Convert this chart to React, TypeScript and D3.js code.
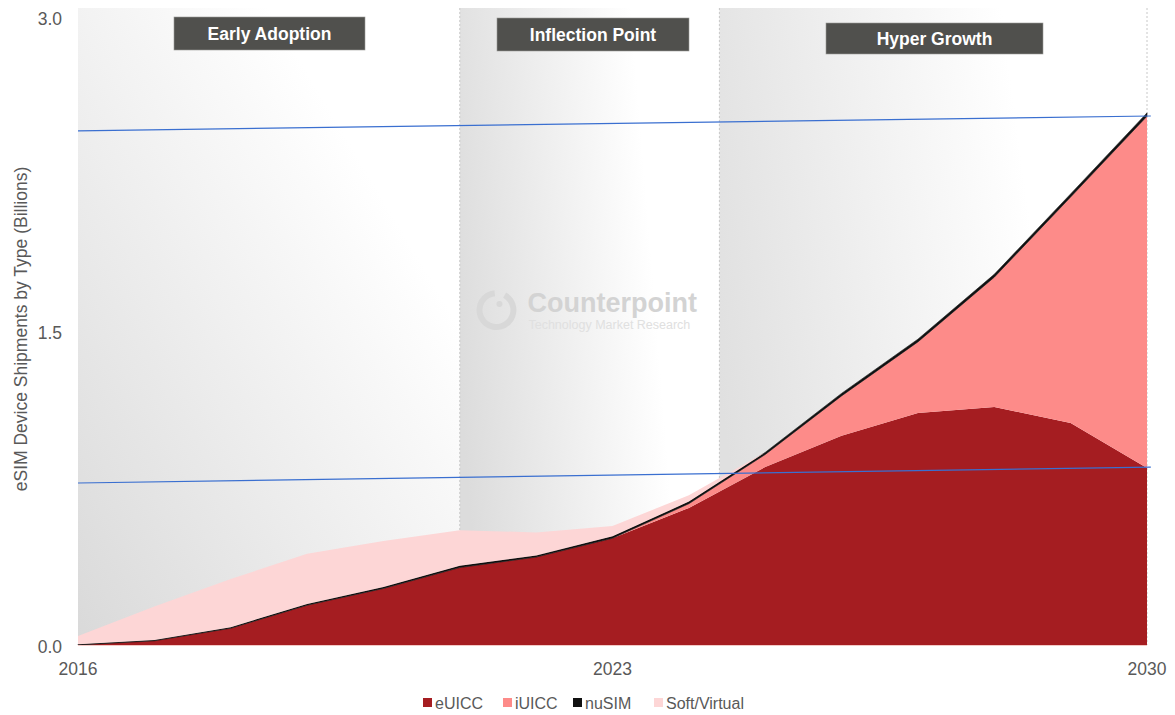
import React, { useRef, useEffect } from 'react';
import * as d3 from 'd3';

const years = [2016, 2017, 2018, 2019, 2020, 2021, 2022, 2023, 2024, 2025, 2026, 2027, 2028, 2029, 2030];
const eUICC = [0.0, 0.02, 0.08, 0.19, 0.27, 0.37, 0.42, 0.51, 0.655, 0.85, 1.0, 1.108, 1.137, 1.06, 0.846];
const iUICC = [0, 0, 0, 0, 0, 0, 0, 0, 0.02, 0.06, 0.19, 0.34, 0.62, 1.08, 1.68];
const nuSIM = [0.003, 0.004, 0.005, 0.006, 0.007, 0.008, 0.008, 0.009, 0.01, 0.01, 0.012, 0.013, 0.014, 0.015, 0.016];
const softVirtual = [0.04, 0.16, 0.23, 0.24, 0.22, 0.17, 0.11, 0.05, 0.03, 0, 0, 0, 0, 0, 0];

const seriesNames = ['eUICC', 'iUICC', 'nuSIM', 'Soft/Virtual'];
const seriesColors = ['#a51d21', '#fd8b89', '#111111', '#fdd6d6'];

const phases = ['Early Adoption', 'Inflection Point', 'Hyper Growth'];
const phaseBounds = [2016, 2021, 2024.4, 2030];

const yTicks = [0, 1.5, 3.0];
const xTicks = [2016, 2023, 2030];

// the two thin blue guide lines drawn over the chart, [x0, y0, x1, y1] in data units
const guideLines = [
  [2016, 2.456, 2030.05, 2.527],
  [2016, 0.774, 2030.05, 0.85],
];

const App: React.FC = () => {
  const svgRef = useRef<SVGSVGElement | null>(null);

  useEffect(() => {
    const W = 1175;
    const H = 715;
    const margin = { top: 17, right: 28, bottom: 70, left: 78 };
    const width = W - margin.left - margin.right;
    const height = H - margin.top - margin.bottom;
    const font = '"Liberation Sans", Arial, sans-serif';

    const root = d3.select(svgRef.current);
    root.selectAll('*').remove();
    root.attr('width', W).attr('height', H);

    const defs = root.append('defs');
    const grads = [
      { id: 'g0', x1: '0%', y1: '100%', x2: '100%', y2: '0%', from: '#d9d9d9', to: '#ffffff' },
      { id: 'g1', x1: '0%', y1: '60%', x2: '100%', y2: '40%', from: '#dcdcdc', to: '#ffffff' },
      { id: 'g2', x1: '0%', y1: '60%', x2: '100%', y2: '40%', from: '#e0e0e0', to: '#ffffff' },
    ];
    grads.forEach((g) => {
      const lg = defs
        .append('linearGradient')
        .attr('id', g.id)
        .attr('x1', g.x1)
        .attr('y1', g.y1)
        .attr('x2', g.x2)
        .attr('y2', g.y2);
      lg.append('stop').attr('offset', '0%').attr('stop-color', g.from);
      lg.append('stop').attr('offset', '75%').attr('stop-color', g.to);
    });

    const svg = root.append('g').attr('transform', `translate(${margin.left},${margin.top})`);

    const x = d3.scaleLinear().domain([2016, 2030]).range([0, width]);
    const y = d3.scaleLinear().domain([0, 3]).range([height, 0]);

    // phase backgrounds
    phases.forEach((p, i) => {
      svg
        .append('rect')
        .attr('x', x(phaseBounds[i]))
        .attr('y', -9)
        .attr('width', x(phaseBounds[i + 1]) - x(phaseBounds[i]))
        .attr('height', height + 9)
        .attr('fill', `url(#g${i})`);
    });
    phaseBounds.slice(1).forEach((b) => {
      svg
        .append('line')
        .attr('x1', x(b))
        .attr('x2', x(b))
        .attr('y1', -9)
        .attr('y2', height)
        .attr('stroke', '#c8c8c8')
        .attr('stroke-width', 1)
        .attr('stroke-dasharray', '2,2');
    });

    // watermark
    const wm = svg.append('g').attr('transform', `translate(${x(2021.48)},${y(1.6)})`);
    wm.append('path')
      .attr('d', d3.arc()({ innerRadius: 14, outerRadius: 20, startAngle: 0.5, endAngle: Math.PI * 2 - 0.1 }) as string)
      .attr('fill', '#d8d8d8');
    wm.append('circle').attr('cx', 3).attr('cy', -6).attr('r', 3).attr('fill', '#d8d8d8');
    wm.append('text')
      .attr('x', 31)
      .attr('y', 2)
      .attr('font-family', font)
      .attr('font-weight', 'bold')
      .attr('font-size', 27)
      .attr('fill', '#d3d3d3')
      .text('Counterpoint');
    wm.append('text')
      .attr('x', 32)
      .attr('y', 19)
      .attr('font-family', font)
      .attr('font-size', 12.5)
      .attr('fill', '#e0e0e0')
      .text('Technology Market Research');

    // stacked areas
    const table = years.map((yr, i) => ({
      year: yr,
      eUICC: eUICC[i],
      iUICC: iUICC[i],
      nuSIM: nuSIM[i],
      'Soft/Virtual': softVirtual[i],
    }));
    const stacked = d3.stack<any>().keys(seriesNames)(table);
    const area = d3
      .area<any>()
      .x((d) => x(d.data.year))
      .y0((d) => y(d[0]))
      .y1((d) => y(d[1]))
      .curve(d3.curveLinear);

    svg
      .selectAll('path.layer')
      .data(stacked)
      .enter()
      .append('path')
      .attr('class', 'layer')
      .attr('d', area)
      .attr('fill', (d, i) => seriesColors[i])
      .attr('stroke', (d, i) => (i === 2 ? '#111' : 'none'))
      .attr('stroke-width', 0.6);

    svg
      .append('line')
      .attr('x1', 0)
      .attr('x2', width)
      .attr('y1', height + 0.5)
      .attr('y2', height + 0.5)
      .attr('stroke', '#f3c9c6')
      .attr('stroke-width', 1);

    // blue guide lines
    guideLines.forEach((l) => {
      svg
        .append('line')
        .attr('x1', x(l[0]))
        .attr('y1', y(l[1]))
        .attr('x2', x(l[2]))
        .attr('y2', y(l[3]))
        .attr('stroke', '#3a6fd0')
        .attr('stroke-width', 1.2);
    });

    // phase labels
    const labelBoxes = [
      { x0: 174, x1: 365, y0: 17, y1: 50 },
      { x0: 497, x1: 689, y0: 18, y1: 51 },
      { x0: 826, x1: 1043, y0: 23, y1: 54 },
    ];
    phases.forEach((p, i) => {
      const b = labelBoxes[i];
      root
        .append('rect')
        .attr('x', b.x0)
        .attr('y', b.y0)
        .attr('width', b.x1 - b.x0)
        .attr('height', b.y1 - b.y0)
        .attr('fill', '#50504d')
        .attr('stroke', '#9a9a96')
        .attr('stroke-width', 0.6);
      root
        .append('text')
        .attr('x', (b.x0 + b.x1) / 2)
        .attr('y', (b.y0 + b.y1) / 2 + 6)
        .attr('text-anchor', 'middle')
        .attr('font-family', font)
        .attr('font-weight', 'bold')
        .attr('font-size', 17.5)
        .attr('fill', '#ffffff')
        .text(p);
    });

    // axes labels
    yTicks.forEach((t) => {
      svg
        .append('text')
        .attr('x', -16)
        .attr('y', y(t) + 8)
        .attr('text-anchor', 'end')
        .attr('font-family', font)
        .attr('font-size', 17.5)
        .attr('fill', '#595959')
        .text(t.toFixed(1));
    });
    xTicks.forEach((t) => {
      svg
        .append('text')
        .attr('x', x(t))
        .attr('y', height + 30)
        .attr('text-anchor', 'middle')
        .attr('font-family', font)
        .attr('font-size', 17.5)
        .attr('fill', '#595959')
        .text(String(t));
    });

    root
      .append('text')
      .attr('transform', `translate(27,${margin.top + 312}) rotate(-90)`)
      .attr('text-anchor', 'middle')
      .attr('font-family', font)
      .attr('font-size', 17.5)
      .attr('fill', '#595959')
      .text('eSIM Device Shipments by Type (Billions)');

    // legend
    const legendX = [423, 503, 573, 654];
    seriesNames.forEach((s, i) => {
      const g = root.append('g').attr('transform', `translate(${legendX[i]},703)`);
      g.append('rect').attr('x', 0).attr('y', -5).attr('width', 9).attr('height', 9).attr('fill', seriesColors[i]);
      g.append('text')
        .attr('x', 12)
        .attr('y', 6)
        .attr('font-family', font)
        .attr('font-size', 16)
        .attr('fill', '#595959')
        .text(s);
    });
  }, []);

  return <svg ref={svgRef} style={{ position: 'absolute', left: 0, top: 0 }}></svg>;
};

export default App;
